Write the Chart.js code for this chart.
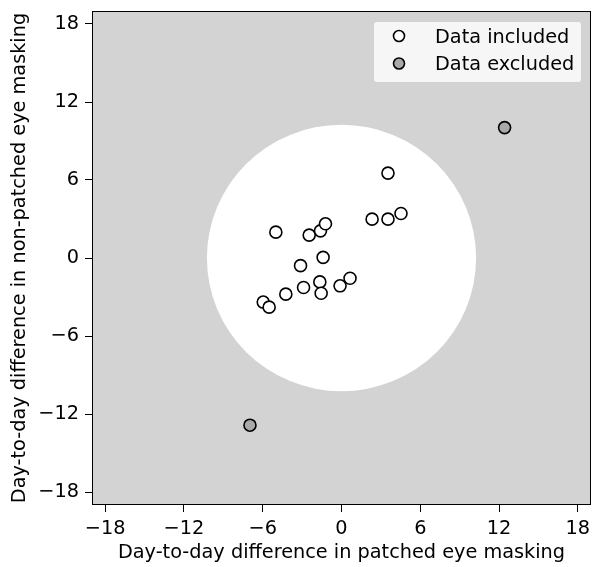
<!DOCTYPE html>
<html>
<head>
<meta charset="utf-8">
<script src="https://cdn.jsdelivr.net/npm/chart.js@4/dist/chart.umd.min.js"></script>
<style>
  html, body { margin: 0; padding: 0; background: #fff; }
  #wrap { width: 592px; height: 567px; }
</style>
</head>
<body>
<div id="wrap"><canvas id="scatterChart"></canvas></div>
<script>
// patched eye (x) vs non-patched eye (y), day-to-day differences
const includedX = [3.54, 2.33, 3.54, 4.53, -5.0, -2.46, -1.6, -1.22, -1.4, -3.12, 0.65, -0.11, -1.65, -1.55, -2.89, -4.24, -5.96, -5.51];
const includedY = [6.53, 2.99, 2.99, 3.42, 1.99, 1.76, 2.09, 2.63, 0.05, -0.59, -1.56, -2.14, -1.84, -2.71, -2.27, -2.78, -3.39, -3.78];
const excludedX = [12.42, -6.97];
const excludedY = [10.03, -12.86];

const tickValues = [-18, -12, -6, 0, 6, 12, 18];
const axisMin = -19;
const axisMax = 19;
const cutoffRadius = 10.25;

const seriesLabels = ['Data included', 'Data excluded'];

const FONT = 'DejaVu Sans';
const FSIZE = 19.3;

function toPoints(xs, ys) {
    return xs.map((x, i) => ({ x: x, y: ys[i] }));
}

// gray background + white acceptance circle, drawn through the scales
const backdropPlugin = {
    id: 'backdrop',
    beforeDatasetsDraw(chart) {
        const { ctx, chartArea, scales } = chart;
        ctx.save();
        ctx.fillStyle = '#d3d3d3';
        ctx.fillRect(chartArea.left, chartArea.top, chartArea.right - chartArea.left, chartArea.bottom - chartArea.top);
        const cx = scales.x.getPixelForValue(0);
        const cy = scales.y.getPixelForValue(0);
        const rx = scales.x.getPixelForValue(cutoffRadius) - cx;
        const ry = cy - scales.y.getPixelForValue(cutoffRadius);
        ctx.fillStyle = '#ffffff';
        ctx.beginPath();
        ctx.ellipse(cx, cy, rx, ry, 0, 0, Math.PI * 2);
        ctx.fill();
        ctx.restore();
    },
    afterDraw(chart) {
        const { ctx, chartArea } = chart;
        ctx.save();
        // frame
        ctx.strokeStyle = '#000';
        ctx.lineWidth = 1;
        ctx.strokeRect(chartArea.left + 0.5, chartArea.top + 0.5, chartArea.right - chartArea.left - 1, chartArea.bottom - chartArea.top - 1);

        // legend in the upper right corner
        const w = 208, h = 61;
        const x0 = chartArea.right - 10 - w;
        const y0 = chartArea.top + 10;
        ctx.fillStyle = 'rgba(255,255,255,0.8)';
        ctx.strokeStyle = 'rgba(204,204,204,0.8)';
        ctx.beginPath();
        ctx.roundRect(x0 + 0.5, y0 + 0.5, w, h, 3);
        ctx.fill();
        ctx.stroke();

        ctx.font = FSIZE + 'px "' + FONT + '"';
        ctx.textBaseline = 'middle';
        chart.data.datasets.forEach((ds, i) => {
            const my = y0 + 15 + i * 27.5;
            ctx.beginPath();
            ctx.arc(x0 + 26, my, 5.5, 0, Math.PI * 2);
            ctx.fillStyle = ds.backgroundColor;
            ctx.fill();
            ctx.lineWidth = 1.6;
            ctx.strokeStyle = '#000';
            ctx.stroke();
            ctx.fillStyle = '#000';
            ctx.fillText(ds.label, x0 + 62, my + 1.5);
        });
        ctx.restore();
    }
};

function axis(title, isX) {
    return {
        type: 'linear',
        min: axisMin,
        max: axisMax,
        afterBuildTicks: (scale) => {
            scale.ticks = tickValues.map(v => ({ value: v }));
        },
        afterFit: (scale) => {
            if (isX) scale.height = 62;
            else scale.width = 92;
            scale.paddingLeft = 0;
            scale.paddingRight = 0;
            scale.paddingTop = 0;
            scale.paddingBottom = 0;
        },
        grid: {
            drawOnChartArea: false,
            drawTicks: true,
            tickLength: 7,
            tickWidth: 1,
            tickColor: '#000'
        },
        border: { display: false },
        ticks: {
            color: '#000',
            padding: isX ? 5 : 6,
            font: { family: FONT, size: FSIZE },
            callback: (v) => String(v).replace('-', '\u2212')
        },
        title: {
            display: true,
            text: title,
            color: '#000',
            font: { family: FONT, size: FSIZE },
            padding: isX ? { top: 2, bottom: 2 } : { top: 8, bottom: 2 }
        }
    };
}

new Chart(document.getElementById('scatterChart'), {
    type: 'scatter',
    data: {
        datasets: [
            {
                label: seriesLabels[0],
                data: toPoints(includedX, includedY),
                backgroundColor: '#ffffff',
                borderColor: '#000000',
                borderWidth: 1.6,
                pointRadius: 6,
                pointHoverRadius: 6
            },
            {
                label: seriesLabels[1],
                data: toPoints(excludedX, excludedY),
                backgroundColor: '#a9a9a9',
                borderColor: '#000000',
                borderWidth: 1.6,
                pointRadius: 6,
                pointHoverRadius: 6
            }
        ]
    },
    options: {
        responsive: true,
        maintainAspectRatio: false,
        animation: false,
        layout: { autoPadding: false, padding: { top: 11, right: 1, left: 0, bottom: 0 } },
        plugins: {
            legend: { display: false },
            tooltip: { enabled: false }
        },
        scales: {
            x: axis('Day-to-day difference in patched eye masking', true),
            y: axis('Day-to-day difference in non-patched eye masking', false)
        }
    },
    plugins: [backdropPlugin]
});
</script>
</body>
</html>
